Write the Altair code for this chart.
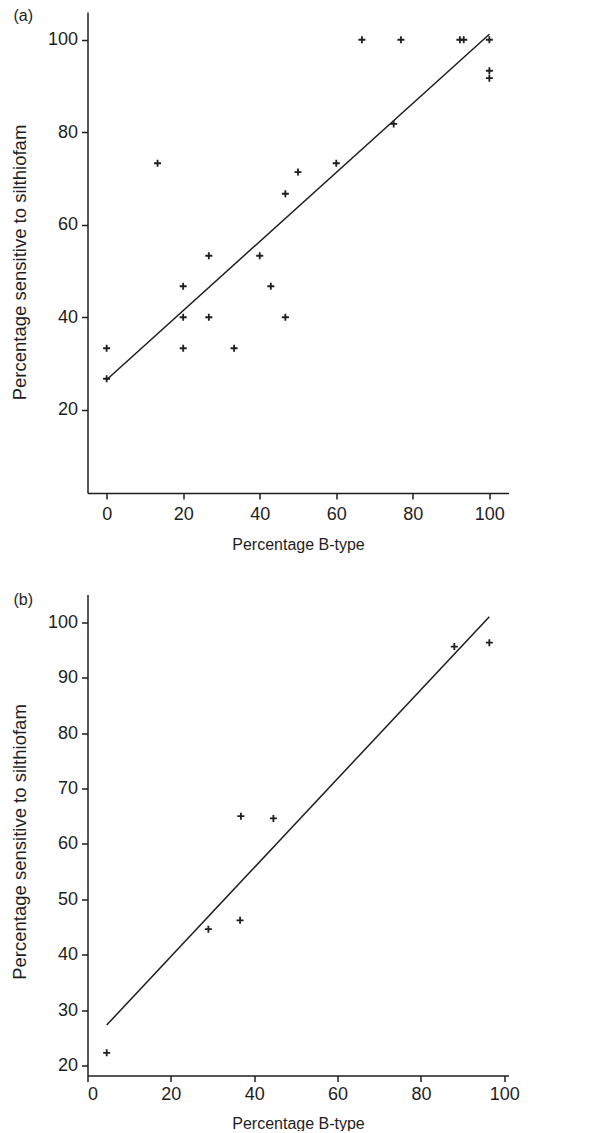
import altair as alt
import pandas as pd

# Panel (a) data
xa = [0, 0, 13.3, 20, 20, 20, 26.7, 26.7, 33.3, 40, 42.9, 46.7, 46.7, 50, 60, 66.7, 75, 76.9, 92.3, 93.3, 100, 100, 100]
ya = [26.7, 33.3, 73.3, 46.7, 40, 33.3, 53.3, 40, 33.3, 53.3, 46.7, 66.7, 40, 71.4, 73.3, 100, 81.8, 100, 100, 100, 100, 93.3, 91.7]
fit_a_x = [0, 100]
fit_a_y = [26.5, 101.2]

# Panel (b) data
xb = [4.6, 29.0, 36.6, 36.8, 44.6, 88.0, 96.4]
yb = [22.3, 44.6, 46.2, 65.0, 64.6, 95.6, 96.3]
fit_b_x = [4.6, 96.4]
fit_b_y = [27.3, 101.0]

x_ticks = [0, 20, 40, 60, 80, 100]
ya_ticks = [20, 40, 60, 80, 100]
yb_ticks = [20, 30, 40, 50, 60, 70, 80, 90, 100]

INK = "#1e1e1e"
FONT = "Liberation Sans"
PLUS = "M-1,0L1,0M0,-1L0,1"


def panel(xs, ys, fx, fy, xdom, ydom, yticks, label, lab_y, xlabpad, xtitlepad, ytitle_y):
    pts = pd.DataFrame({"x": xs, "y": ys})
    fit = pd.DataFrame({"x": fx, "y": fy})
    xsc = alt.Scale(domain=xdom, nice=False, zero=False)
    ysc = alt.Scale(domain=ydom, nice=False, zero=False)
    xax = alt.Axis(values=x_ticks, title="Percentage B-type", grid=False,
                   tickSize=6, labelPadding=xlabpad, titlePadding=xtitlepad,
                   domainWidth=1.5, tickWidth=1.5, titleFontSize=16)
    yax = alt.Axis(values=yticks, title="Percentage sensitive to silthiofam", grid=False,
                   tickSize=6, labelPadding=4, titlePadding=18, titleY=ytitle_y,
                   domainWidth=1.5, tickWidth=1.5, titleFontSize=18.5)
    p = alt.Chart(pts).mark_point(shape=PLUS, size=49, strokeWidth=1.8, color=INK,
                                  filled=False, opacity=1).encode(
        x=alt.X("x:Q", scale=xsc, axis=xax),
        y=alt.Y("y:Q", scale=ysc, axis=yax),
    )
    l = alt.Chart(fit).mark_line(color=INK, strokeWidth=1.5).encode(
        x=alt.X("x:Q", scale=xsc),
        y=alt.Y("y:Q", scale=ysc),
    )
    t = alt.Chart(pd.DataFrame({"lab": [label]})).mark_text(
        align="left", baseline="top", fontSize=16, font=FONT, color=INK
    ).encode(text="lab:N", x=alt.value(-74), y=alt.value(lab_y))
    return alt.layer(p, l, t).properties(width=421, height=481)


a = panel(xa, ya, fit_a_x, fit_a_y, [-5, 105], [2, 106], ya_ticks, "(a)", -4, 6.5, 13, 250)
b = panel(xb, yb, fit_b_x, fit_b_y, [0, 101], [18.2, 105], yb_ticks, "(b)", -3, 3.5, 12, 247)

chart = alt.vconcat(a, b, spacing=38.5).properties(
    padding={"left": 1.5, "top": 0, "right": 0, "bottom": 0}
).configure_view(stroke=None).configure_axis(
    labelFont=FONT, titleFont=FONT, labelFontSize=18,
    labelColor=INK, titleColor=INK, domainColor=INK, tickColor=INK,
    titleFontWeight="normal",
)

chart.save("out.html", embed_options={"renderer": "svg", "actions": False})
